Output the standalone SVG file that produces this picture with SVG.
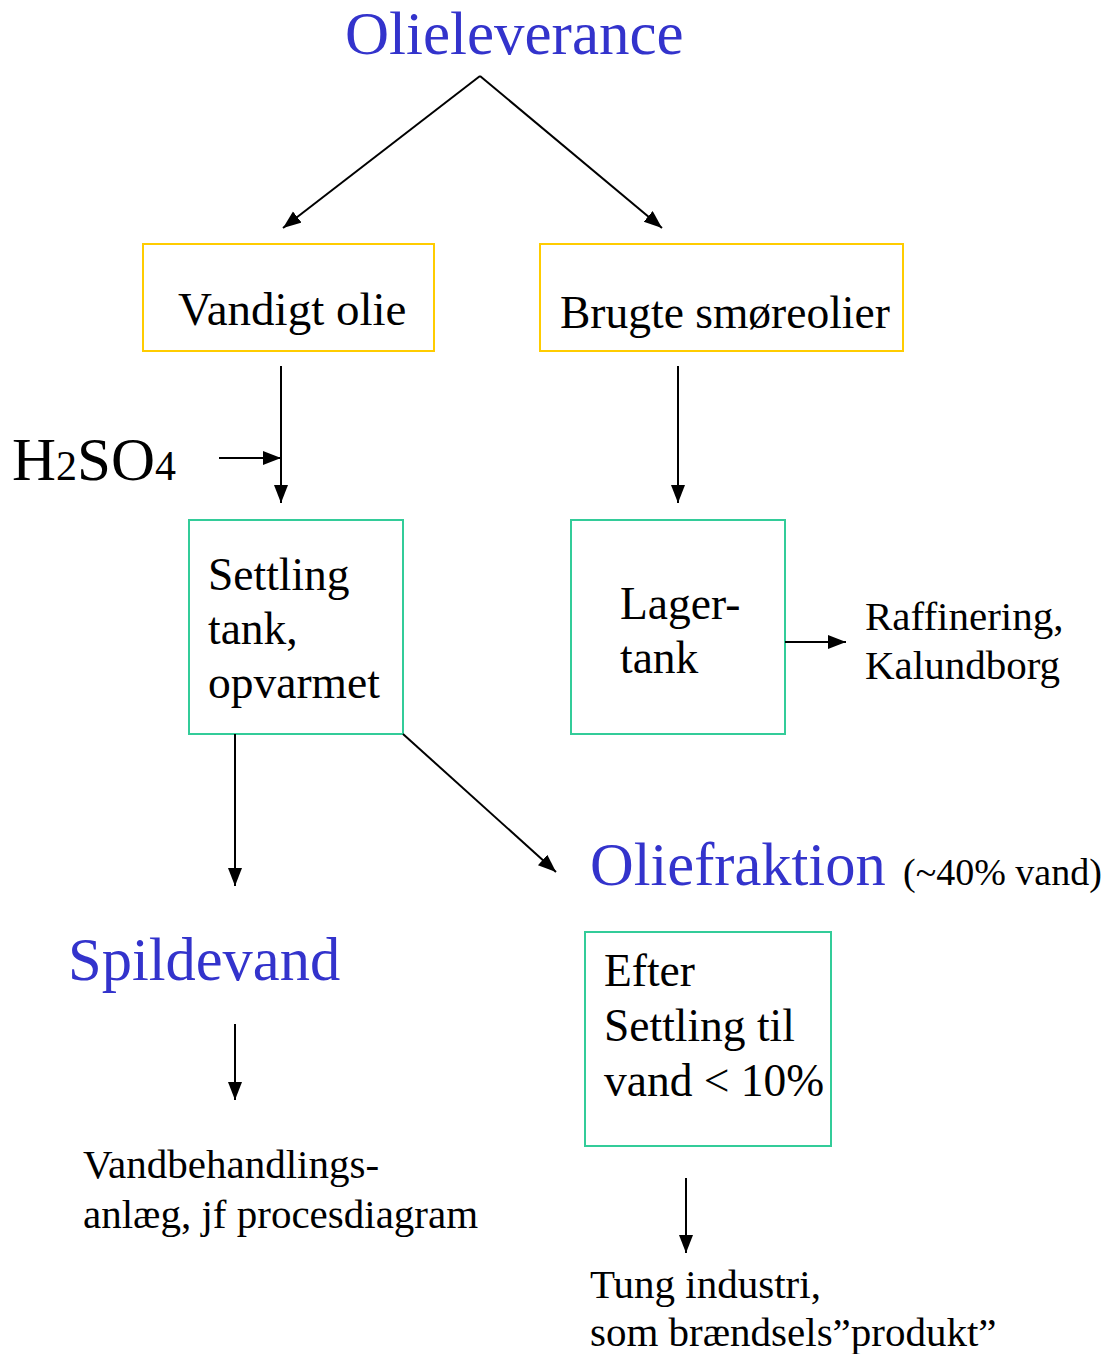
<svg xmlns="http://www.w3.org/2000/svg" width="1116" height="1354" viewBox="0 0 1116 1354">
<style>
text{font-family:"Liberation Serif","Times New Roman",serif;fill:#000}
.blue{fill:#3333CC;font-size:60.5px}
.t45{font-size:45.5px}
.t40{font-size:41px}
.ybox{fill:none;stroke:#FFCC00;stroke-width:2}
.gbox{fill:none;stroke:#33CC99;stroke-width:2}
.conn line{stroke:#000;stroke-width:2;marker-end:url(#ah)}
</style>
<defs>
<marker id="ah" markerUnits="userSpaceOnUse" markerWidth="20" markerHeight="16" refX="18" refY="7" orient="auto">
<path d="M0,0 L18,7 L0,14 Z" fill="#000"/>
</marker>
</defs>
<g id="olieleverance"><text class="blue" x="345" y="54" style="font-size:61px">Olieleverance</text></g>
<g id="vandigt-olie"><rect class="ybox" x="143" y="244" width="291" height="107"/><text class="t45" x="178" y="325" style="font-size:47px">Vandigt olie</text></g>
<g id="brugte-smoreolier"><rect class="ybox" x="540" y="244" width="363" height="107"/><text class="t45" x="560" y="328">Brugte smøreolier</text></g>
<g id="h2so4"><text x="12" y="480" style="font-size:61px">H<tspan style="font-size:42px">2</tspan>SO<tspan style="font-size:42px">4</tspan></text></g>
<g id="settling-tank"><rect class="gbox" x="189" y="520" width="214" height="214"/><text class="t45" x="208" y="590">Settling</text><text class="t45" x="208" y="644">tank,</text><text class="t45" x="208" y="698">opvarmet</text></g>
<g id="lager-tank"><rect class="gbox" x="571" y="520" width="214" height="214"/><text class="t45" x="620" y="619">Lager-</text><text class="t45" x="620" y="673">tank</text></g>
<g id="raffinering"><text class="t40" x="865" y="630">Raffinering,</text><text class="t40" x="865" y="679">Kalundborg</text></g>
<g id="spildevand"><text class="blue" x="68" y="980">Spildevand</text></g>
<g id="oliefraktion"><text class="blue" x="590" y="885">Oliefraktion</text><text x="903" y="885" style="font-size:38px">(~40% vand)</text></g>
<g id="efter-settling"><rect class="gbox" x="585" y="932" width="246" height="214"/><text class="t45" x="604" y="986">Efter</text><text class="t45" x="604" y="1041">Settling til</text><text class="t45" x="604" y="1096">vand &lt; 10%</text></g>
<g id="vandbehandling"><text class="t40" x="83" y="1178">Vandbehandlings-</text><text class="t40" x="83" y="1228">anlæg, jf procesdiagram</text></g>
<g id="tung-industri"><text class="t40" x="590" y="1298">Tung industri,</text><text class="t40" x="590" y="1346">som brændsels”produkt”</text></g>
<g class="conn" id="connectors">
<line x1="480" y1="76" x2="283" y2="228"/>
<line x1="480" y1="76" x2="662" y2="228"/>
<line x1="281" y1="366" x2="281" y2="503"/>
<line x1="219" y1="458" x2="281" y2="458"/>
<line x1="678" y1="366" x2="678" y2="503"/>
<line x1="785" y1="642" x2="846" y2="642"/>
<line x1="235" y1="734" x2="235" y2="886"/>
<line x1="403" y1="734" x2="556" y2="872"/>
<line x1="235" y1="1024" x2="235" y2="1100"/>
<line x1="686" y1="1178" x2="686" y2="1253"/>
</g>
</svg>
